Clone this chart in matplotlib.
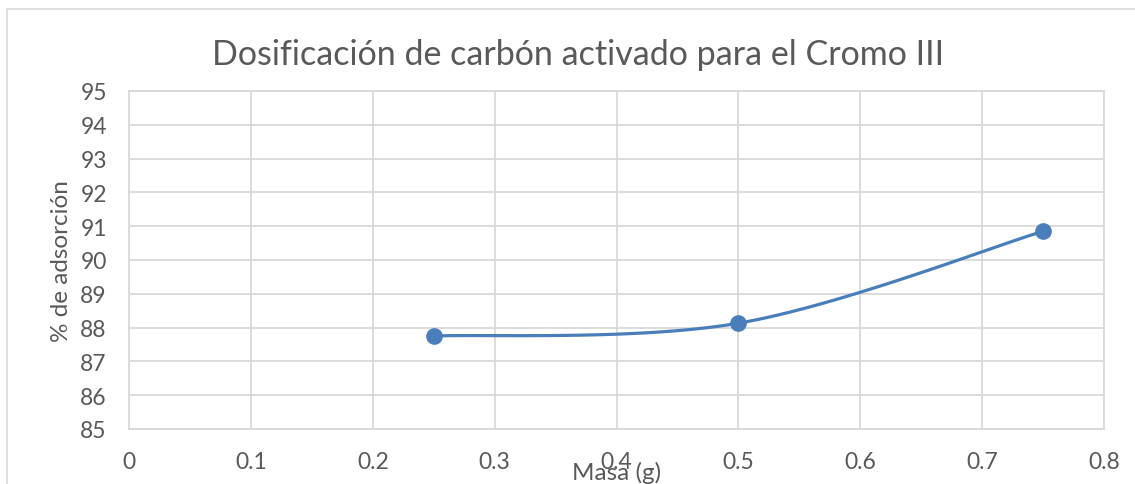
import matplotlib
matplotlib.use("Agg")
import matplotlib.pyplot as plt
from matplotlib.patches import Rectangle
import numpy as np

# Data
masa = [0.25, 0.5, 0.75]
adsorcion = [87.75, 88.13, 90.85]
x_ticks = [0, 0.1, 0.2, 0.3, 0.4, 0.5, 0.6, 0.7, 0.8]
x_tick_labels = ["0", "0.1", "0.2", "0.3", "0.4", "0.5", "0.6", "0.7", "0.8"]
y_ticks = list(range(85, 96))
title = "Dosificación de carbón activado para el Cromo III"
xlabel = "Masa (g)"
ylabel = "% de adsorción"

plt.rcParams['font.family'] = ['Lato', 'DejaVu Sans']

W, H = 1135, 485
fig = plt.figure(figsize=(W / 100, H / 100), dpi=100)
fig.patch.set_facecolor("white")

# outer chart border
fig.patches.append(Rectangle((7 / W, -0.05), 1.2, (H - 10) / H + 0.05, transform=fig.transFigure,
                             fill=False, edgecolor="#d9d9d9", linewidth=1.2, zorder=0))

L, R, T, B = 129, 1104, 92, 430
ax = fig.add_axes([L / W, (H - B) / H, (R - L) / W, (B - T) / H])

# Excel-like smoothed curve (Catmull-Rom Bezier through the data points)
px = np.array(masa, dtype=float)
py = np.array(adsorcion, dtype=float)
pts = np.column_stack([px, py])
curve = []
n = len(pts)
t = np.linspace(0, 1, 60)
for i in range(n - 1):
    p0 = pts[i]
    p3 = pts[i + 1]
    prev = pts[i - 1] if i > 0 else pts[i]
    nxt = pts[i + 2] if i + 2 < n else pts[i + 1]
    c1 = p0 + (p3 - prev) / 6
    c2 = p3 - (nxt - p0) / 6
    seg = ((1 - t)[:, None] ** 3 * p0 + 3 * ((1 - t) ** 2 * t)[:, None] * c1
           + 3 * ((1 - t) * t ** 2)[:, None] * c2 + (t ** 3)[:, None] * p3)
    curve.append(seg)
curve = np.vstack(curve)

color = "#4a7ebb"
ax.plot(curve[:, 0], curve[:, 1], color=color, linewidth=2.3, solid_capstyle="round", zorder=3)
ax.plot(masa, adsorcion, linestyle="none", marker="o", markersize=11, color=color, zorder=4)

ax.set_xlim(0, 0.8)
ax.set_ylim(85, 95)
ax.set_xticks(x_ticks)
ax.set_xticklabels(x_tick_labels)
ax.set_yticks(y_ticks)
ax.grid(True, color="#d9d9d9", linewidth=1.3)
ax.set_axisbelow(True)
for s in ax.spines.values():
    s.set_color("#d9d9d9")
    s.set_linewidth(1.3)
ax.tick_params(length=0, labelsize=16.5, labelcolor="#595959")
ax.tick_params(axis="x", pad=16)
ax.tick_params(axis="y", pad=16)

fig.text(578 / W, 1 - 55 / H, title, ha="center", va="center", fontsize=24.5, color="#595959")
fig.text(62 / W, 1 - 261 / H, ylabel, ha="center", va="center", rotation=90, fontsize=17.5, color="#595959")
fig.text(617 / W, 1 - 473 / H, xlabel, ha="center", va="center", fontsize=17.5, color="#595959")

fig.savefig("out.png", dpi=100, facecolor="white")
